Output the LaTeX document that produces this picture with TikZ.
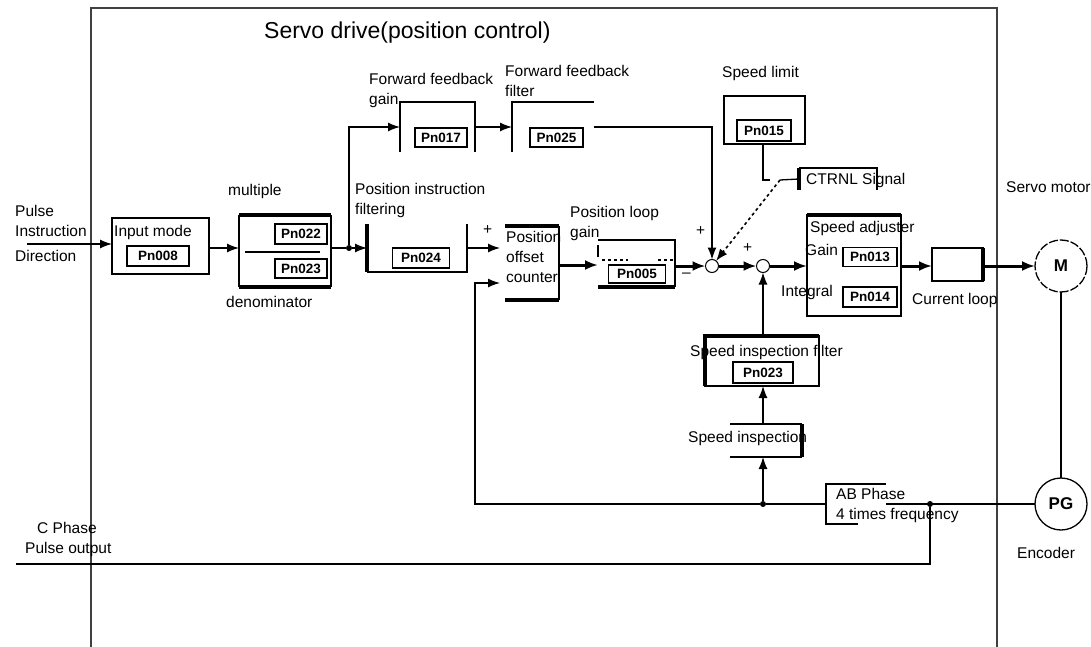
\documentclass[tikz,border=0pt]{standalone}
\usepackage{fontspec}
\setmainfont{Liberation Sans}
\usetikzlibrary{arrows.meta}
\tikzset{
  lbl/.style={anchor=west, inner sep=0pt, align=left, font=\fontsize{15.5}{20}\selectfont},
  titlelbl/.style={anchor=west, inner sep=0pt, font=\fontsize{23}{26}\selectfont},
  block/.style={rectangle, draw=black, line width=1.3pt, inner sep=0pt, outer sep=0pt},
  openblock/.style={rectangle, inner sep=0pt, outer sep=0pt},
  param/.style={rectangle, draw=black, line width=1.5pt, inner sep=0pt, outer sep=0pt,
    font=\bfseries\fontsize{13.5}{13.5}\selectfont},
  sumnode/.style={circle, draw=black, line width=1pt, minimum size=13pt, inner sep=0pt, outer sep=0pt},
  motor/.style={circle, draw=black, line width=1.3pt, minimum size=52pt, inner sep=0pt, outer sep=0pt,
    font=\bfseries\fontsize{17}{17}\selectfont},
  dotnode/.style={circle, fill=black, minimum size=6pt, inner sep=0pt, outer sep=0pt},
  wire/.style={line width=1.3pt},
  arrowline/.style={-{Latex[length=12pt,width=9pt]}, line width=1.3pt},
  heavyline/.style={-{Latex[length=13pt,width=10pt]}, line width=3pt},
  thickedge/.style={line width=3.2pt},
  edge/.style={line width=1.3pt},
  framing/.style={line width=2pt, draw=black!75},
}

\begin{document}
\begin{tikzpicture}[x=1pt,y=-1pt]
  \useasboundingbox (0,0) rectangle (1091,647);
  \draw[framing] (91,647) -- (91,8) -- (997,8) -- (997,647);

  % blocks
  \node[block, minimum width=97pt, minimum height=56pt] (inputbox) at (160.5,246) {};
  \node[param, minimum width=62pt, minimum height=20pt] (pnInput) at (158,256) {Pn008};
  \node[openblock, minimum width=92pt, minimum height=72pt] (gear) at (285,251) {};
  \node[param, minimum width=52pt, minimum height=20pt] (pnNum) at (301,234) {Pn022};
  \node[param, minimum width=52pt, minimum height=19pt] (pnDen) at (301,268.5) {Pn023};
  \node[openblock, minimum width=100pt, minimum height=48pt] (instfilter) at (417,248) {};
  \node[param, minimum width=57pt, minimum height=20pt] (pnInst) at (421,258) {Pn024};
  \node[openblock, minimum width=75pt, minimum height=50pt] (ffgain) at (437.5,127) {};
  \node[param, minimum width=52pt, minimum height=19pt] (pnGain) at (441,137.5) {Pn017};
  \node[openblock, minimum width=82pt, minimum height=50pt] (fffilter) at (553,127) {};
  \node[param, minimum width=53pt, minimum height=19pt] (pnFilter) at (556.5,137.5) {Pn025};
  \node[openblock, minimum width=54pt, minimum height=74pt] (counter) at (532,263) {};
  \node[openblock, minimum width=77pt, minimum height=47pt] (loopgain) at (636.5,263.5) {};
  \node[param, minimum width=57pt, minimum height=18pt] (pnLoop) at (637,274) {Pn005};
  \node[block, minimum width=81pt, minimum height=48pt] (limit) at (764.5,120) {};
  \node[param, minimum width=54pt, minimum height=21pt] (pnLimit) at (764,130.5) {Pn015};
  \node[openblock, minimum width=78pt, minimum height=22pt] (ctrl) at (838,179) {};
  \node[block, minimum width=94pt, minimum height=101pt] (adjuster) at (854,265.5) {};
  \node[param, minimum width=54pt, minimum height=19pt] (pnKp) at (870,257) {Pn013};
  \node[param, minimum width=54pt, minimum height=20pt] (pnKi) at (870,297) {Pn014};
  \node[block, minimum width=51pt, minimum height=33pt] (currentloop) at (957.5,264.5) {};
  \node[block, minimum width=114pt, minimum height=50pt] (speedfilter) at (762,361) {};
  \node[param, minimum width=60pt, minimum height=21pt] (pnSpeed) at (763,372.5) {Pn023};
  \node[openblock, minimum width=72pt, minimum height=33pt] (inspect) at (766,440.5) {};
  \node[openblock, minimum width=60pt, minimum height=40pt] (abphase) at (856,504) {};

  \node[sumnode] (sumA) at (712,266) {};
  \node[sumnode] (sumB) at (763,266) {};
  \node[motor, dash pattern=on 9pt off 2pt] (motorM) at (1061,266) {M};
  \node[motor] (encoderPG) at (1061,504) {PG};

  \node[dotnode] (jFeed) at (349,248) {};
  \node[dotnode] (jSpeed) at (763,504) {};
  \node[dotnode] (jPulse) at (930,504) {};
  \coordinate (pulsein) at (27,244);
  \coordinate (pulseout) at (16,564);
  \coordinate (limitbend) at (763,180);
  \coordinate (swtch) at (780,180);

  % partial outlines of blocks
  \draw[thickedge] (gear.north west) -- (gear.north east);
  \draw[thickedge] (gear.south west) -- (gear.south east);
  \draw[edge] (gear.north west) -- (gear.south west);
  \draw[edge] (gear.north east) -- (gear.south east);
  \draw[edge] (245,252) -- (320,252);
  \draw[thickedge] (instfilter.north west) -- (instfilter.south west);
  \draw[edge] (instfilter.south west) -- (instfilter.south east) -- (instfilter.north east);
  \draw[edge] (ffgain.south west) -- (ffgain.north west) -- (ffgain.north east) -- (ffgain.south east);
  \draw[edge] (fffilter.south west) -- (fffilter.north west) -- (fffilter.north east);
  \draw[thickedge] (counter.north west) -- (counter.north east);
  \draw[thickedge] (counter.south west) -- (counter.south east);
  \draw[edge, line width=2pt] (counter.north east) -- (counter.south east);
  \draw[edge] (loopgain.north west) -- (loopgain.north east) -- (loopgain.south east);
  \draw[thickedge] (loopgain.south west) -- (loopgain.south east);
  \draw[edge] (598,245) -- (598,257);
  \draw[edge, dashed] (602,260) -- (628,260);
  \draw[edge, dashed] (658,260) -- (674,260);
  \draw[thickedge] (ctrl.north west) -- (ctrl.south west);
  \draw[edge] (ctrl.north west) -- (ctrl.north east) -- (ctrl.south east);
  \draw[thickedge] (adjuster.north west) -- (adjuster.north east);
  \draw[thickedge] (currentloop.north east) -- (currentloop.south east);
  \draw[thickedge] (speedfilter.south west) -- (speedfilter.north west) -- (speedfilter.north east);
  \draw[edge] (inspect.north west) -- (inspect.north east);
  \draw[edge] (inspect.south west) -- (inspect.south east);
  \draw[thickedge] (inspect.north east) -- (inspect.south east);
  \draw[edge] (abphase.east |- 0,484) -- (abphase.north west) -- (abphase.south west) -- (858,524);

  % labels
  \node[titlelbl] (title) at (264,33) {Servo drive(position control)};
  \node[lbl] (pulselbl) at (15,221) {Pulse\\Instruction};
  \node[lbl] (directionlbl) at (15,256) {Direction};
  \node[lbl] (inputlbl) at (114,232) {Input mode};
  \node[lbl] (multiplelbl) at (228,191) {multiple};
  \node[lbl] (denomlbl) at (226,302) {denominator};
  \node[lbl] (instlbl) at (355,200) {Position instruction\\filtering};
  \node[lbl] (ffgainlbl) at (369,90) {Forward feedback\\gain};
  \node[lbl] (fffilterlbl) at (505,81) {Forward feedback\\filter};
  \node[lbl] (counterlbl) at (506,257) {Position\\offset\\counter};
  \node[lbl] (looplbl) at (570,223) {Position loop\\gain};
  \node[lbl] (limitlbl) at (722,73) {Speed limit};
  \node[lbl] (ctrllbl) at (806,180) {CTRNL Signal};
  \node[lbl] (adjlbl) at (810,228) {Speed adjuster};
  \node[lbl] (kplbl) at (805,250) {Gain};
  \node[lbl] (kilbl) at (781,292) {Integral};
  \node[lbl] (currentlbl) at (912,300) {Current loop};
  \node[lbl] (motorlbl) at (1006,187) {Servo motor};
  \node[lbl] (filterlbl) at (690,352) {Speed inspection filter};
  \node[lbl] (inspectlbl) at (688,438) {Speed inspection};
  \node[lbl] (ablbl) at (836,505) {AB Phase\\4 times frequency};
  \node[lbl] (encoderlbl) at (1017,553) {Encoder};
  \node[lbl] (phaselbl) at (25,539) {\hspace{12pt}C Phase\\Pulse output};
  \node[lbl] (plusC) at (483,230) {+};
  \node[lbl] (plusA) at (696,231) {+};
  \node[lbl] (plusB) at (743,248) {+};
  \node[lbl] (minusA) at (682,275) {--};

  % connectors
  \draw[arrowline] (pulsein) -- (pulsein -| inputbox.west);
  \draw[arrowline] (inputbox.east |- jFeed) -- (gear.west |- jFeed);
  \draw[wire] (gear.east |- jFeed) -- (jFeed);
  \draw[arrowline] (jFeed) -- (instfilter.west);
  \draw[arrowline] (jFeed) |- (ffgain.west);
  \draw[arrowline] (ffgain.east) -- (fffilter.west);
  \draw[arrowline] (fffilter.east) -| (sumA.north);
  \draw[arrowline] (instfilter.east) -- (500,248);
  \draw[heavyline] (counter.east |- 0,265) -- (loopgain.west |- 0,265);
  \draw[heavyline] (loopgain.east |- sumA) -- (sumA.west);
  \draw[heavyline] (sumA.east) -- (sumB.west);
  \draw[heavyline] (sumB.east) -- (adjuster.west |- sumB);
  \draw[heavyline] (adjuster.east |- sumB) -- (currentloop.west |- sumB);
  \draw[heavyline] (currentloop.east |- motorM) -- (motorM.west);
  \draw[wire] (limit.south -| limitbend) -- (limitbend) -- (770,180);
  \draw[wire] (swtch) -- (ctrl.west);
  \draw[arrowline, line width=1.6pt, dashed] (swtch) -- (sumA);
  \draw[wire] (motorM.south) -- (encoderPG.north);
  \draw[wire] (encoderPG.west) -- (abphase.east);
  \draw[wire] (abphase.west) -- (jSpeed);
  \draw[arrowline] (jSpeed) -- (475,504) |- (500,283);
  \draw[arrowline] (jSpeed) -- (inspect.south -| jSpeed);
  \draw[arrowline] (inspect.north -| jSpeed) -- (speedfilter.south -| jSpeed);
  \draw[arrowline] (speedfilter.north -| sumB) -- (sumB.south);
  \draw[wire] (jPulse) |- (pulseout);
\end{tikzpicture}
\end{document}
